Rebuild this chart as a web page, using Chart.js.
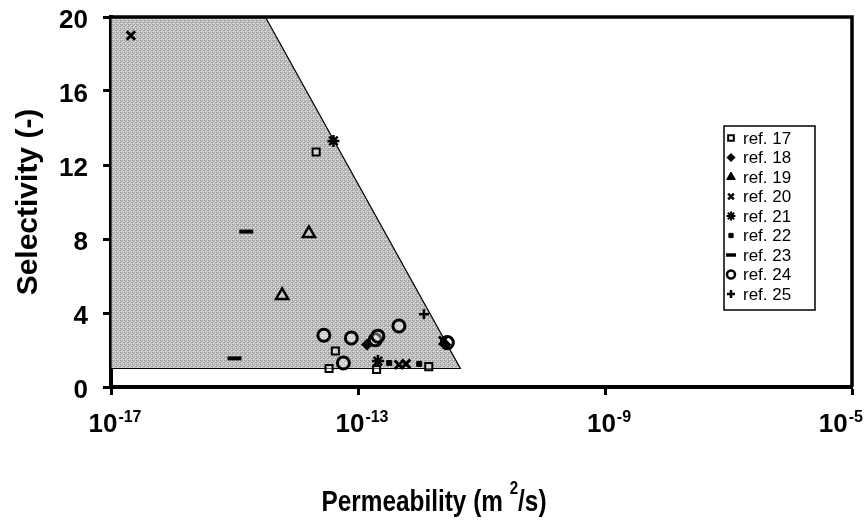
<!DOCTYPE html>
<html><head><meta charset="utf-8">
<script src="https://cdn.jsdelivr.net/npm/chart.js@4.4.0/dist/chart.umd.min.js"></script>
<style>html,body{margin:0;padding:0;background:#fff}canvas{display:block}</style>
</head><body>
<canvas id="c" width="865" height="526"></canvas>
<script>
// ---- data ----
const xTickValues = [1e-17, 1e-13, 1e-9, 1e-5];
const xTickBase = '10';
const xTickExponents = ['-17', '-13', '-9', '-5'];
const yTickValues = [0, 4, 8, 12, 16, 20];
const seriesLabels = ['ref. 17', 'ref. 18', 'ref. 19', 'ref. 20', 'ref. 21', 'ref. 22', 'ref. 23', 'ref. 24', 'ref. 25'];
const ref17 = [{x:2.1e-14,y:12.7},{x:4.3e-14,y:1.95},{x:3.4e-14,y:1.0},{x:2.0e-13,y:0.95},{x:1.4e-12,y:1.1}];
const ref18 = [{x:1.4e-13,y:2.3},{x:2.6e-12,y:2.3}];
const ref19 = [{x:1.6e-14,y:8.3},{x:5.9e-15,y:4.95}];
const ref20 = [{x:2.1e-17,y:19.0},{x:2.4e-12,y:2.5},{x:4.6e-13,y:1.2},{x:6.0e-13,y:1.25}];
const ref21 = [{x:4.0e-14,y:13.3},{x:2.1e-13,y:1.4}];
const ref22 = [{x:9.8e-13,y:1.25},{x:3.2e-13,y:1.3}];
const ref23 = [{x:1.55e-15,y:8.4},{x:1.0e-15,y:1.55}];
const ref24 = [{x:2.8e-14,y:2.8},{x:7.8e-14,y:2.65},{x:5.8e-14,y:1.3},{x:1.9e-13,y:2.55},{x:2.1e-13,y:2.75},{x:4.6e-13,y:3.3},{x:2.8e-12,y:2.4}];
const ref25 = [{x:1.17e-12,y:3.93}];
const regionPolygon = [{x:1e-17,y:1},{x:1e-17,y:20},{x:3.16e-15,y:20},{x:4.55e-12,y:1},{x:1e-17,y:1}];
const xTitleMain = 'Permeability (m ';
const xTitleSup = '2';
const xTitleEnd = '/s)';
const yTitle = 'Selectivity (-)';

// ---- styles ----
const FAM = "'Liberation Sans', Arial, sans-serif";
function makePattern(){
  const c = document.createElement('canvas'); c.width = 4; c.height = 4;
  const g = c.getContext('2d');
  g.fillStyle = '#c6c6c6'; g.fillRect(0,0,4,4);
  g.fillStyle = '#9c9c9c';
  g.fillRect(0,0,1,1); g.fillRect(2,0,1,1); g.fillRect(1,1,1,1); g.fillRect(3,2,1,1); g.fillRect(0,2,1,1);
  g.fillStyle = '#e4e4e4';
  g.fillRect(3,1,1,1); g.fillRect(1,3,1,1);
  return g.createPattern(c, 'repeat');
}
const styles = [
  {pointStyle:'rect', radius:5, borderWidth:2, backgroundColor:'rgba(255,255,255,0.35)'},
  {pointStyle:'rectRot', radius:5, borderWidth:1.5, backgroundColor:'#000'},
  {pointStyle:'triangle', radius:7, borderWidth:2.5, backgroundColor:'rgba(255,255,255,0.2)'},
  {pointStyle:'crossRot', radius:6, borderWidth:3, backgroundColor:'#000'},
  {pointStyle:'star', radius:6, borderWidth:2.5, backgroundColor:'#000'},
  {pointStyle:'rect', radius:3.5, borderWidth:1, backgroundColor:'#000'},
  {pointStyle:'line', radius:7, borderWidth:4, backgroundColor:'#000'},
  {pointStyle:'circle', radius:6, borderWidth:3, backgroundColor:'rgba(255,255,255,0.35)'},
  {pointStyle:'cross', radius:5, borderWidth:2.5, backgroundColor:'#000'}
];
const legendStyles = [
  {pointStyle:'rect', radius:4, borderWidth:2, fill:'#fff'},
  {pointStyle:'rectRot', radius:4, borderWidth:1, fill:'#000'},
  {pointStyle:'triangle', radius:5, borderWidth:1, fill:'#000'},
  {pointStyle:'crossRot', radius:4, borderWidth:2.5, fill:'#000'},
  {pointStyle:'star', radius:4.5, borderWidth:2, fill:'#000'},
  {pointStyle:'rect', radius:3, borderWidth:1, fill:'#000'},
  {pointStyle:'line', radius:5, borderWidth:3.5, fill:'#000'},
  {pointStyle:'circle', radius:4, borderWidth:2.5, fill:'#fff'},
  {pointStyle:'cross', radius:4, borderWidth:2.5, fill:'#000'}
];
const seriesData = [ref17, ref18, ref19, ref20, ref21, ref22, ref23, ref24, ref25];

const datasets = seriesData.map((d, i) => ({
  label: seriesLabels[i], data: d, showLine:false,
  pointStyle: styles[i].pointStyle, pointRadius: styles[i].radius,
  pointBorderWidth: styles[i].borderWidth, pointBorderColor:'#000',
  pointBackgroundColor: styles[i].backgroundColor
}));
datasets.push({
  label:'region', data: regionPolygon, showLine:true, fill:'shape', tension:0,
  backgroundColor: makePattern(), borderColor:'#000', borderWidth:1.2, pointRadius:0
});

function drawScaledText(ctx, txt, x, y, sx){
  ctx.save(); ctx.translate(x, y); ctx.scale(sx, 1); ctx.fillText(txt, 0, 0); ctx.restore();
}

const framePlugin = {
  id:'frame',
  afterDraw(chart){
    const {ctx, chartArea:a} = chart;
    ctx.save();
    ctx.strokeStyle = '#000'; ctx.lineWidth = 3.5;
    ctx.beginPath();
    ctx.moveTo(a.left, a.top); ctx.lineTo(a.right, a.top); ctx.lineTo(a.right, a.bottom);
    ctx.stroke();
    // x tick labels with superscript exponents
    const xs = chart.scales.x;
    xTickValues.forEach((v, i) => {
      const px = xs.getPixelForValue(v);
      ctx.font = 'bold 26px ' + FAM;
      const wb = ctx.measureText(xTickBase).width;
      ctx.font = 'bold 16px ' + FAM;
      const we = ctx.measureText(xTickExponents[i]).width;
      const w = wb + we + 1;
      let left = px - w/2 + 4;
      if (left + w > 863) left = 863 - w;
      ctx.fillStyle = '#000'; ctx.textBaseline = 'alphabetic'; ctx.textAlign = 'left';
      ctx.font = 'bold 26px ' + FAM;
      ctx.fillText(xTickBase, left, 432);
      ctx.font = 'bold 16px ' + FAM;
      ctx.fillText(xTickExponents[i], left + wb + 1, 422);
    });
    // x axis title (horizontally condensed like the reference)
    const sx = 0.84;
    ctx.font = 'bold 29px ' + FAM;
    const w1 = ctx.measureText(xTitleMain).width * sx;
    const w3 = ctx.measureText(xTitleEnd).width * sx;
    ctx.font = 'bold 18px ' + FAM;
    const w2 = ctx.measureText(xTitleSup).width * sx;
    let tx = 434 - (w1 + w2 + w3) / 2;
    ctx.font = 'bold 29px ' + FAM;
    drawScaledText(ctx, xTitleMain, tx, 511, sx);
    tx += w1;
    ctx.font = 'bold 18px ' + FAM;
    drawScaledText(ctx, xTitleSup, tx, 494, sx);
    tx += w2;
    ctx.font = 'bold 29px ' + FAM;
    drawScaledText(ctx, xTitleEnd, tx, 511, sx);
    // legend
    const L = a.right - 128, T = a.top + 109, R = a.right - 37, B = a.top + 293;
    ctx.fillStyle = '#fff'; ctx.fillRect(L, T, R-L, B-T);
    ctx.lineWidth = 1.5; ctx.strokeStyle = '#000'; ctx.strokeRect(L, T, R-L, B-T);
    seriesLabels.forEach((lab, i) => {
      const y = T + 12 + i * 19.5;
      const s = legendStyles[i];
      ctx.fillStyle = s.fill; ctx.strokeStyle = '#000'; ctx.lineWidth = s.borderWidth;
      Chart.helpers.drawPoint(ctx, {pointStyle:s.pointStyle, radius:s.radius, borderWidth:s.borderWidth, rotation:0}, L + 7, y);
      ctx.fillStyle = '#000';
      ctx.font = '17px ' + FAM; ctx.textBaseline = 'middle'; ctx.textAlign = 'left';
      ctx.fillText(lab, L + 19, y + 1);
    });
    ctx.restore();
  }
};

new Chart(document.getElementById('c'), {
  type:'scatter',
  data:{datasets},
  options:{
    responsive:false, animation:false, devicePixelRatio:1,
    layout:{padding:{left:0, top:17, right:13, bottom:0}},
    plugins:{legend:{display:false}, tooltip:{enabled:false}},
    scales:{
      x:{
        type:'logarithmic', min:1e-17, max:1e-5, position:'bottom',
        afterBuildTicks: s => { s.ticks = xTickValues.map(v => ({value:v})); },
        afterFit: s => { s.height = 139; s.paddingLeft = 0; s.paddingRight = 0; },
        ticks:{display:true, autoSkip:false, maxRotation:0, callback: () => ''},
        grid:{drawOnChartArea:false, drawTicks:true, tickLength:8, tickWidth:3, tickColor:'#000'},
        border:{display:true, color:'#000', width:4}
      },
      y:{
        min:0, max:20,
        afterBuildTicks: s => { s.ticks = yTickValues.map(v => ({value:v})); },
        afterFit: s => { s.width = 111; s.paddingTop = 0; s.paddingBottom = 0; },
        ticks:{color:'#000', font:{family:FAM, size:26, weight:'bold'}, padding:15, labelOffset:4},
        grid:{drawOnChartArea:false, drawTicks:true, tickLength:8, tickWidth:3, tickColor:'#000'},
        border:{display:true, color:'#000', width:4},
        title:{display:true, text:yTitle, color:'#000', font:{family:FAM, size:30, weight:'bold'}, padding:{top:11, bottom:0}}
      }
    }
  },
  plugins:[framePlugin]
});
</script>
</body></html>
